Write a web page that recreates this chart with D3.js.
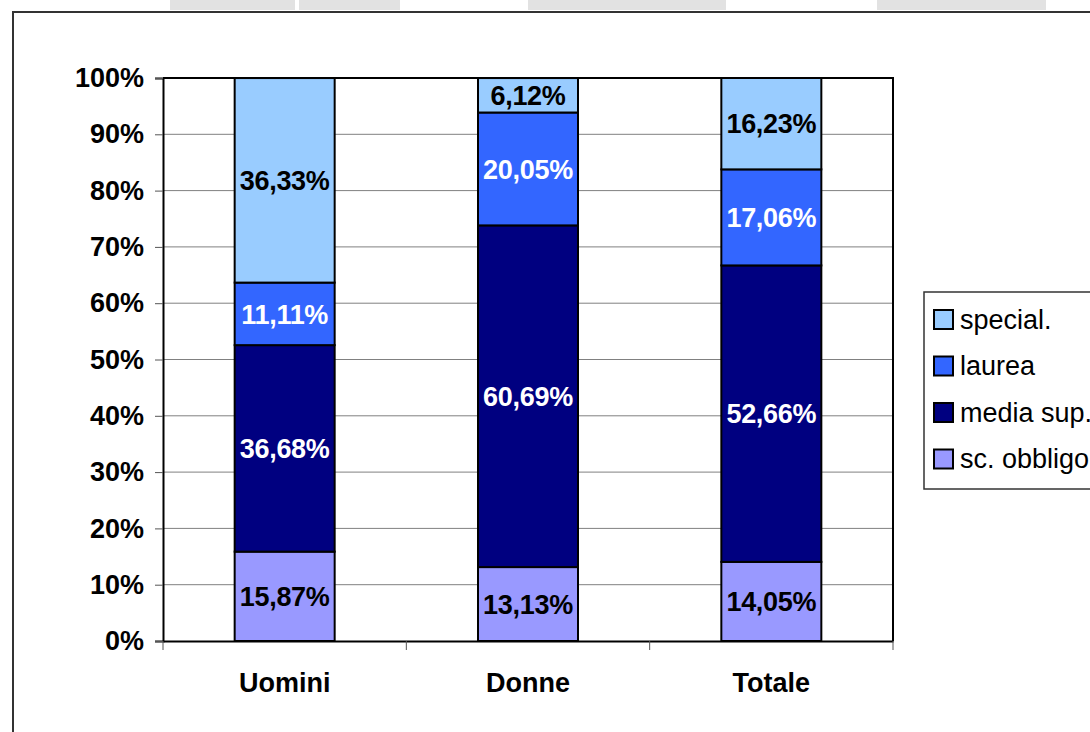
<!DOCTYPE html>
<html>
<head>
<meta charset="utf-8">
<script src="https://cdn.jsdelivr.net/npm/d3@7"></script>
<style>
  body { margin: 0; background: #fff; }
  svg { display: block; font-family: Arial, "Liberation Sans", sans-serif; }
</style>
</head>
<body>
<div id="chart"></div>
<script>
// categories and series (percent shares)
const categories = ["Uomini", "Donne", "Totale"];
const seriesNames = ["sc. obbligo", "media sup.", "laurea", "special."];
const scObbligo = [15.87, 13.13, 14.05];
const mediaSup = [36.68, 60.69, 52.66];
const laurea = [11.11, 20.05, 17.06];
const special = [36.33, 6.12, 16.23];
const yTicks = [0, 10, 20, 30, 40, 50, 60, 70, 80, 90, 100];

const colors = ["#9999FF", "#000080", "#3366FF", "#99CCFF"];
const labelColors = ["#000", "#fff", "#fff", "#000"];

const W = 1090, H = 732;
const FS = 27;
const svg = d3.select("#chart").append("svg").attr("width", W).attr("height", H);

// scan artifacts at the top of the page
[[170, 125], [299, 101], [528, 198], [877, 169]].forEach(([x, w]) => {
  svg.append("rect").attr("x", x).attr("y", 0).attr("width", w).attr("height", 10)
    .attr("fill", "#e2e2e2");
});

// outer frame
svg.append("path").attr("d", "M13,732V12H1090").attr("fill", "none")
  .attr("stroke", "#333").attr("stroke-width", 2);

const plot = { left: 163, top: 78, right: 893, bottom: 641 };

const x = d3.scaleBand().domain(categories).range([plot.left, plot.right]).paddingInner(0).paddingOuter(0);
const y = d3.scaleLinear().domain([0, 100]).range([plot.bottom, plot.top]);
const barW = 100;

// gridlines
svg.append("g").selectAll("line").data(yTicks.slice(1, -1)).join("line")
  .attr("x1", plot.left).attr("x2", plot.right)
  .attr("y1", d => y(d)).attr("y2", d => y(d))
  .attr("stroke", "#808080").attr("stroke-width", 1);

// plot area border (top & right)
svg.append("path").attr("d", `M${plot.left},${plot.top}H${plot.right}V${plot.bottom}`)
  .attr("fill", "none").attr("stroke", "#000").attr("stroke-width", 2);

// stacked data
const rows = categories.map((c, i) => ({
  cat: c,
  "sc. obbligo": scObbligo[i],
  "media sup.": mediaSup[i],
  "laurea": laurea[i],
  "special.": special[i]
}));
const stack = d3.stack().keys(seriesNames)(rows);

stack.forEach((layer, k) => {
  const g = svg.append("g");
  g.selectAll("rect").data(layer).join("rect")
    .attr("x", d => x(d.data.cat) + (x.bandwidth() - barW) / 2)
    .attr("width", barW)
    .attr("y", d => y(Math.min(d[1], 100)))
    .attr("height", d => y(d[0]) - y(Math.min(d[1], 100)))
    .attr("fill", colors[k])
    .attr("stroke", "#000").attr("stroke-width", 2);
});

stack.forEach((layer, k) => {
  svg.append("g").selectAll("text").data(layer).join("text")
    .attr("x", d => x(d.data.cat) + x.bandwidth() / 2)
    .attr("y", d => (y(d[0]) + y(Math.min(d[1], 100))) / 2)
    .attr("dy", "0.36em")
    .attr("text-anchor", "middle")
    .attr("font-size", FS).attr("font-weight", "bold")
    .attr("letter-spacing", -0.3)
    .attr("fill", labelColors[k])
    .text(d => d3.format(".2f")(d.data[layer.key]).replace(".", ",") + "%");
});

// y axis
const yAxis = svg.append("g").attr("transform", `translate(${plot.left},0)`)
  .call(d3.axisLeft(y).tickValues(yTicks).tickSize(8).tickFormat(d => d + "%"));
yAxis.select(".domain").attr("stroke", "#000").attr("stroke-width", 2);
yAxis.selectAll(".tick line").attr("stroke", "#555");
yAxis.selectAll(".tick text").attr("x", -19).attr("font-size", FS).attr("font-weight", "bold")
  .attr("font-family", "Arial, 'Liberation Sans', sans-serif").attr("fill", "#000");

// x axis
const xAxis = svg.append("g").attr("transform", `translate(0,${plot.bottom})`)
  .call(d3.axisBottom(x).tickSize(0).tickPadding(32));
xAxis.select(".domain").attr("stroke", "#000").attr("stroke-width", 2);
xAxis.selectAll(".tick text").attr("font-size", FS).attr("font-weight", "bold")
  .attr("font-family", "Arial, 'Liberation Sans', sans-serif").attr("fill", "#000");
// category separators below axis
svg.append("g").selectAll("line").data(categories.map(c => x(c)).concat([plot.right])).join("line")
  .attr("x1", d => d).attr("x2", d => d)
  .attr("y1", plot.bottom).attr("y2", plot.bottom + 9)
  .attr("stroke", "#555").attr("stroke-width", 1);

// legend
const legend = svg.append("g").attr("transform", "translate(924,292)");
legend.append("rect").attr("width", 200).attr("height", 197)
  .attr("fill", "#fff").attr("stroke", "#333").attr("stroke-width", 1.5);
const legendOrder = seriesNames.map((s, k) => ({ s, k })).reverse();
legend.selectAll("g.item").data(legendOrder).join("g").attr("class", "item")
  .attr("transform", (d, i) => `translate(10,${27 + i * 46.5})`)
  .each(function (d) {
    const item = d3.select(this);
    item.append("rect").attr("x", 0).attr("y", -9).attr("width", 19).attr("height", 19)
      .attr("fill", colors[d.k]).attr("stroke", "#000").attr("stroke-width", 2);
    item.append("text").attr("x", 26).attr("dy", "0.36em")
      .attr("font-size", 27).attr("fill", "#000").text(d.s);
  });
</script>
</body>
</html>
